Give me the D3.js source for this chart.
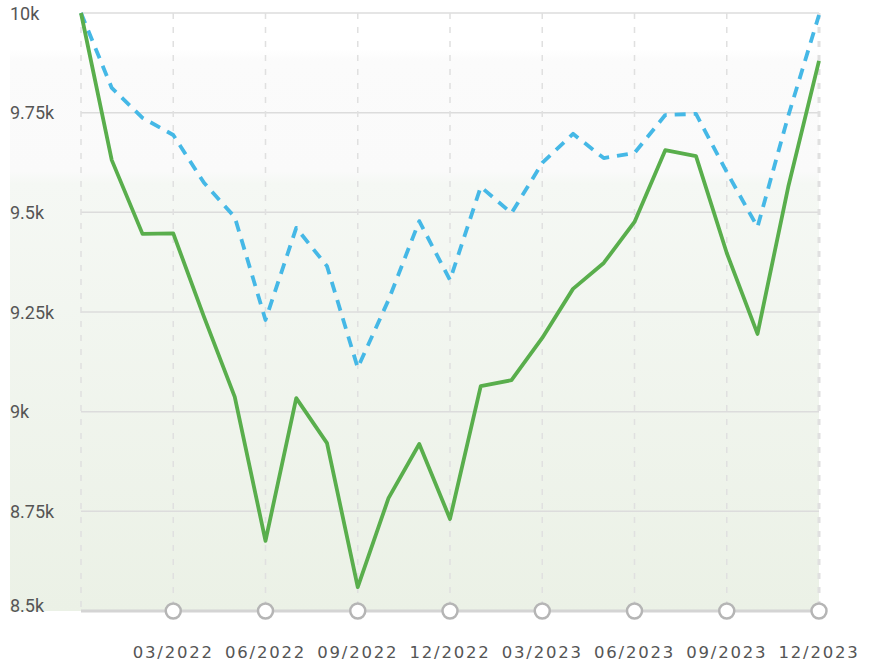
<!DOCTYPE html>
<html>
<head>
<meta charset="utf-8">
<script src="https://cdn.jsdelivr.net/npm/d3@7"></script>
<style>
  html, body { margin: 0; padding: 0; background: #fff; }
  svg { display: block; }
</style>
</head>
<body>
<svg id="chart" width="878" height="666"></svg>
<script>
// ---- Data ----
const months = ["12/2021","01/2022","02/2022","03/2022","04/2022","05/2022","06/2022","07/2022","08/2022","09/2022","10/2022","11/2022","12/2022",
                "01/2023","02/2023","03/2023","04/2023","05/2023","06/2023","07/2023","08/2023","09/2023","10/2023","11/2023","12/2023"];
const solidSeries = [10000, 9631, 9446, 9447, 9238, 9037, 8676, 9034, 8921, 8560, 8783, 8919, 8731,
                     9064, 9079, 9185, 9308, 9373, 9476, 9656, 9641, 9398, 9195, 9564, 9880];
const dashedSeries = [10000, 9812, 9737, 9694, 9574, 9488, 9230, 9461, 9365, 9110, 9280, 9478, 9330,
                      9564, 9498, 9624, 9697, 9636, 9649, 9744, 9747, 9601, 9463, 9742, 9995];
const yTicks = [8500, 8750, 9000, 9250, 9500, 9750, 10000];
const yTickLabels = ["8.5k", "8.75k", "9k", "9.25k", "9.5k", "9.75k", "10k"];
const xTickLabels = ["03/2022","06/2022","09/2022","12/2022","03/2023","06/2023","09/2023","12/2023"];

// ---- Layout ----
const svg = d3.select("#chart");
const mLeft = 81, mRight = 819, mTop = 13, mBottom = 611;

const x = d3.scalePoint().domain(months).range([mLeft, mRight]);
const y = d3.scaleLinear().domain([8500, 10000]).range([mBottom, mTop]);

// background gradient
const defs = svg.append("defs");
const grad = defs.append("linearGradient").attr("id", "bg").attr("x1", 0).attr("y1", 0).attr("x2", 0).attr("y2", 1);
[[0, "#ffffff"], [0.08, "#ffffff"], [0.1, "#fbfbfb"], [0.28, "#fafafa"], [0.3, "#f5f8f4"], [1, "#ebf1e6"]].forEach(([o, c]) =>
  grad.append("stop").attr("offset", o).attr("stop-color", c));
svg.append("rect").attr("x", 10).attr("y", 0).attr("width", mRight - 10).attr("height", mBottom)
  .attr("fill", "url(#bg)");

// horizontal grid
svg.append("g").selectAll("line").data(yTicks.slice(1)).join("line")
  .attr("x1", mLeft).attr("x2", mRight)
  .attr("y1", d => y(d)).attr("y2", d => y(d))
  .attr("stroke", "#dcdcdc").attr("stroke-width", 1.5);

// vertical dashed grid (first, quarter ticks)
const vLines = [months[0]].concat(xTickLabels);
svg.append("g").selectAll("line").data(vLines).join("line")
  .attr("x1", d => x(d)).attr("x2", d => x(d))
  .attr("y1", mTop).attr("y2", mBottom)
  .attr("stroke", "#e0e0e0")
  .attr("stroke-width", d => d === months[months.length - 1] ? 3 : 1.5)
  .attr("stroke-dasharray", "6,8");

// y labels
svg.append("g").selectAll("text").data(yTicks).join("text")
  .attr("x", 10).attr("y", d => y(d) + 6.5 - (d === yTicks[0] ? 6 : 0))
  .attr("font-family", "Roboto, 'Liberation Sans', sans-serif")
  .attr("font-size", 18).attr("fill", "#555")
  .text((d, i) => yTickLabels[i]);

// lines
const line = d3.line().x((d, i) => x(months[i])).y(d => y(d));
svg.append("path").datum(dashedSeries).attr("d", line)
  .attr("fill", "none").attr("stroke", "#45b8e6").attr("stroke-width", 3.8)
  .attr("stroke-dasharray", "11,8").attr("stroke-linejoin", "round");
svg.append("path").datum(solidSeries).attr("d", line)
  .attr("fill", "none").attr("stroke", "#59ae4c").attr("stroke-width", 3.8)
  .attr("stroke-linejoin", "round");

// bottom axis line
svg.append("line").attr("x1", mLeft).attr("x2", mRight).attr("y1", mBottom).attr("y2", mBottom)
  .attr("stroke", "#d4d4d4").attr("stroke-width", 3);

// tick circles
svg.append("g").selectAll("circle").data(xTickLabels).join("circle")
  .attr("cx", d => x(d)).attr("cy", mBottom).attr("r", 7.5)
  .attr("fill", "#fff").attr("stroke", "#b5b5b5").attr("stroke-width", 2.5);

// x labels
svg.append("g").selectAll("text").data(xTickLabels).join("text")
  .attr("x", d => x(d)).attr("y", 658)
  .attr("text-anchor", "middle")
  .attr("font-family", "'DejaVu Sans', sans-serif")
  .attr("font-size", 16.5).attr("letter-spacing", 1.8).attr("fill", "#555")
  .text(d => d);
</script>
</body>
</html>
